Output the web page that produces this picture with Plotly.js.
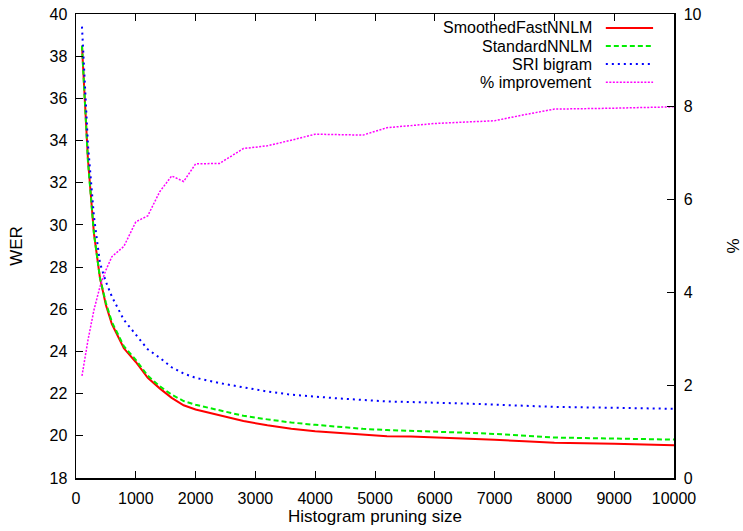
<!DOCTYPE html>
<html>
<head>
<meta charset="utf-8">
<script src="https://cdn.plot.ly/plotly-3.0.1.min.js"></script>
<style>html,body{margin:0;padding:0;background:#fff;}#chart{width:743px;height:531px;}</style>
</head>
<body>
<div id="chart"></div>
<script>
const pruningSize = [100, 200, 300, 400, 500, 600, 800, 1000, 1200, 1400, 1600, 1800, 2000, 2400, 2800, 3200, 3600, 4000, 4400, 4800, 5200, 5600, 6000, 6500, 7000, 7500, 8000, 9000, 10000];
const smoothedFastNNLM = [38.5, 33.1, 29.6, 27.5, 26.2, 25.3, 24.15, 23.5, 22.75, 22.25, 21.8, 21.45, 21.25, 20.98, 20.7, 20.5, 20.33, 20.22, 20.13, 20.06, 19.98, 19.97, 19.93, 19.87, 19.81, 19.74, 19.67, 19.62, 19.55];
const standardNNLM = [38.5, 33.0, 29.6, 27.5, 26.3, 25.4, 24.25, 23.6, 22.85, 22.35, 21.95, 21.65, 21.47, 21.2, 20.95, 20.78, 20.63, 20.52, 20.42, 20.33, 20.27, 20.24, 20.2, 20.15, 20.09, 20.0, 19.92, 19.87, 19.82];
const sriBigram = [39.4, 33.8, 30.4, 28.2, 27.3, 26.6, 25.5, 24.8, 24.1, 23.7, 23.25, 22.95, 22.75, 22.5, 22.3, 22.1, 21.95, 21.85, 21.77, 21.7, 21.63, 21.6, 21.58, 21.53, 21.48, 21.42, 21.37, 21.33, 21.28];
const improvement = [2.2, 2.97, 3.62, 4.12, 4.48, 4.77, 4.99, 5.52, 5.65, 6.17, 6.51, 6.39, 6.77, 6.78, 7.1, 7.16, 7.28, 7.41, 7.4, 7.39, 7.55, 7.59, 7.64, 7.67, 7.7, 7.83, 7.95, 7.97, 8.0];
const seriesNames = ["SmoothedFastNNLM", "StandardNNLM", "SRI bigram", "% improvement"];

const FONT = "Liberation Sans, Arial, Helvetica, sans-serif";
const FS = 17;      // axis titles
const TFS = 16;     // tick labels
const LFS = 16;     // legend text
const styles = [
  {color: "#ff0000", width: 2, dash: "solid"},
  {color: "#00ee00", width: 2, dash: "5px,3px"},
  {color: "#0000ff", width: 2, dash: "2px,4px"},
  {color: "#ff00ff", width: 1.5, dash: "2px,1.5px"}
];
const ys = [smoothedFastNNLM, standardNNLM, sriBigram, improvement];

const traces = ys.map((y, i) => ({
  x: pruningSize, y: y, name: seriesNames[i], type: "scatter", mode: "lines",
  yaxis: i === 3 ? "y2" : "y",
  line: {color: styles[i].color, width: styles[i].width, dash: styles[i].dash},
  showlegend: false
}));

// custom legend (text right-aligned, sample line on the right, as in gnuplot)
const legendY = [0.970, 0.931, 0.892, 0.853];
const annotations = seriesNames.map((n, i) => ({
  xref: "paper", yref: "paper", x: 0.866, y: legendY[i], xanchor: "right", yanchor: "middle",
  text: n, showarrow: false, font: {family: FONT, size: LFS, color: "#000"}
}));
const shapes = seriesNames.map((n, i) => ({
  type: "line", xref: "paper", yref: "paper", x0: 0.886, x1: 0.965, y0: legendY[i], y1: legendY[i],
  line: {color: styles[i].color, width: styles[i].width, dash: styles[i].dash}
}));

const axisCommon = {
  ticks: "inside", ticklen: 7, tickwidth: 1, tickcolor: "#000",
  showline: true, linecolor: "#000", linewidth: 1.5,
  showgrid: false, zeroline: false,
  tickfont: {family: FONT, size: TFS, color: "#000"}
};

const layout = {
  width: 743, height: 531,
  margin: {l: 76, r: 69, t: 14, b: 53},
  paper_bgcolor: "#fff", plot_bgcolor: "#fff",
  font: {family: FONT, size: FS, color: "#000"},
  xaxis: Object.assign({}, axisCommon, {
    range: [0, 10000], dtick: 1000, tick0: 0, mirror: "ticks", tickformat: "d",
    ticklabelstandoff: 5,
    title: {text: "Histogram pruning size", font: {family: FONT, size: FS}, standoff: 4}
  }),
  yaxis: Object.assign({}, axisCommon, {
    range: [18, 40], dtick: 2, tick0: 18, ticklabelstandoff: 4,
    title: {text: "WER", font: {family: FONT, size: FS}, standoff: 22}
  }),
  yaxis2: Object.assign({}, axisCommon, {
    range: [0, 10], dtick: 2, tick0: 0, overlaying: "y", side: "right", ticklabelstandoff: 5,
    title: {text: "%", font: {family: FONT, size: FS}, standoff: 32}
  }),
  annotations: annotations,
  shapes: shapes,
  showlegend: false
};

Plotly.newPlot("chart", traces, layout, {displayModeBar: false, staticPlot: true});
</script>
</body>
</html>
